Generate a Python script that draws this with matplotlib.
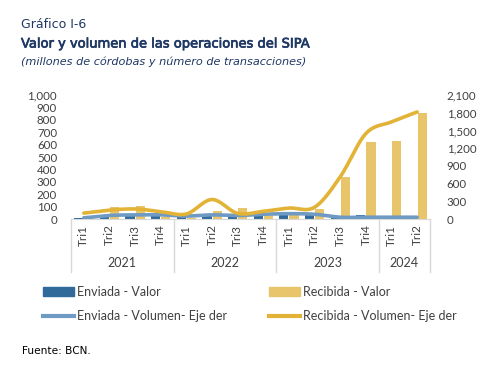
import matplotlib
matplotlib.use("Agg")
import matplotlib.pyplot as plt
import matplotlib.transforms as mtransforms
import matplotlib.patheffects as pe
from matplotlib.patches import Patch
from matplotlib.lines import Line2D
import numpy as np

plt.rcParams['font.family'] = ['Lato', 'DejaVu Sans']

quarters = ['Tri1', 'Tri2', 'Tri3', 'Tri4', 'Tri1', 'Tri2', 'Tri3', 'Tri4',
            'Tri1', 'Tri2', 'Tri3', 'Tri4', 'Tri1', 'Tri2']
years = ['2021', '2022', '2023', '2024']
year_sizes = [4, 4, 4, 2]

# millones de córdobas (left axis)
enviada_valor = [5, 25, 30, 35, 15, 25, 20, 40, 45, 40, 15, 30, 10, 10]
recibida_valor = [5, 95, 105, 20, 10, 65, 85, 25, 30, 80, 340, 618, 631, 857]
# número de transacciones (right axis)
enviada_vol = [20, 60, 70, 70, 50, 70, 60, 80, 90, 80, 30, 30, 30, 30]
recibida_vol = [100, 150, 170, 125, 85, 330, 95, 130, 185, 200, 715, 1448, 1645, 1813]

c_env_bar = '#2F6A9B'
c_rec_bar = '#E8C56B'
c_env_line = '#6E9AC3'
c_rec_line = '#E2B336'
c_text = '#404040'
c_grid = '#D9D9D9'
c_title = '#1F3864'


def smooth(y, n=20):
    # Catmull-Rom spline through the points, like Excel's smoothed line
    y = np.asarray(y, dtype=float)
    p = np.concatenate([[2 * y[0] - y[1]], y, [2 * y[-1] - y[-2]]])
    xs, ys = [], []
    for i in range(1, len(p) - 2):
        t = np.linspace(0, 1, n, endpoint=False)
        p0, p1, p2, p3 = p[i - 1], p[i], p[i + 1], p[i + 2]
        v = 0.5 * ((2 * p1) + (-p0 + p2) * t + (2 * p0 - 5 * p1 + 4 * p2 - p3) * t ** 2
                   + (-p0 + 3 * p1 - 3 * p2 + p3) * t ** 3)
        xs.append(i - 1 + t)
        ys.append(v)
    xs.append([len(y) - 1])
    ys.append([y[-1]])
    return np.concatenate(xs), np.concatenate(ys)


fig = plt.figure(figsize=(4.98, 3.8), dpi=100)
ax = fig.add_axes([71 / 498, 1 - 219 / 380, 359 / 498, 124 / 380])
ax2 = ax.twinx()

x = np.arange(len(quarters))
w = 0.36
ax.bar(x - w / 2 - 0.02, enviada_valor, w, color=c_env_bar, zorder=2)
ax.bar(x + w / 2 + 0.02, recibida_valor, w, color=c_rec_bar, zorder=2)

sx, sy = smooth(enviada_vol)
ax2.plot(sx, sy, color=c_env_line, lw=2.6, solid_capstyle='round')
sx, sy = smooth(recibida_vol)
ax2.plot(sx, sy, color=c_rec_line, lw=2.6, solid_capstyle='round')

ax.set_xlim(-0.5, len(quarters) - 0.5)
ax.set_ylim(0, 1000)
ax2.set_ylim(0, 2100)
ax.set_yticks(np.arange(0, 1001, 100))
ax.set_yticklabels([f'{v:,}' for v in range(0, 1001, 100)])
ax2.set_yticks(np.arange(0, 2101, 300))
ax2.set_yticklabels([f'{v:,}' for v in range(0, 2101, 300)])

ax.set_xticks(x)
ax.set_xticklabels(quarters, rotation=90, fontsize=8.5, color=c_text)
ax.tick_params(axis='x', length=0, pad=4)
ax.tick_params(axis='y', length=0, labelsize=8.3, labelcolor=c_text, pad=10)
ax2.tick_params(axis='y', length=0, labelsize=8.3, labelcolor=c_text, pad=12)

for a in (ax, ax2):
    for s in ('top', 'left', 'right'):
        a.spines[s].set_visible(False)
ax2.spines['bottom'].set_visible(False)
ax.spines['bottom'].set_color(c_grid)

# multi-level category axis
trans = mtransforms.blended_transform_factory(ax.transData, ax.transAxes)
edges = np.concatenate([[0], np.cumsum(year_sizes)]) - 0.5
for e in edges:
    ax.plot([e, e], [0, -0.43], color=c_grid, lw=1, transform=trans, clip_on=False)
for i, yr in enumerate(years):
    ax.text((edges[i] + edges[i + 1]) / 2, -0.355, yr, transform=trans,
            ha='center', va='center', fontsize=9, color=c_text)

# legend (column-major order so rows read Valor / Volumen)
handles = [Patch(color=c_env_bar), Line2D([], [], color=c_env_line, lw=3),
           Patch(color=c_rec_bar), Line2D([], [], color=c_rec_line, lw=3)]
labels = ['Enviada - Valor', 'Enviada - Volumen- Eje der',
          'Recibida - Valor', 'Recibida - Volumen- Eje der']
fig.legend(handles, labels, ncol=2, loc='upper left', bbox_to_anchor=(43 / 498, 1 - 286 / 380),
           frameon=False, fontsize=9, labelcolor=c_text, handlelength=2.5,
           handletextpad=0.25, columnspacing=3.3, labelspacing=1.0,
           borderpad=0, borderaxespad=0)

fig.text(21 / 498, 1 - 24 / 380, 'Gráfico I-6', fontsize=9, color=c_title,
         va='center', family='DejaVu Sans')
fig.text(21 / 498, 1 - 44 / 380, 'Valor y volumen de las operaciones del SIPA',
         fontsize=9.4, color=c_title, va='center', family='DejaVu Sans',
         path_effects=[pe.withStroke(linewidth=0.5, foreground=c_title)])
fig.text(21 / 498, 1 - 62 / 380, '(millones de córdobas y número de transacciones)',
         fontsize=8.1, color=c_title, va='center', style='italic', family='DejaVu Sans')
fig.text(22 / 498, 1 - 351 / 380, 'Fuente: BCN.', fontsize=7.6, color='black',
         va='center', family='DejaVu Sans')

fig.savefig('out.png', dpi=100)
